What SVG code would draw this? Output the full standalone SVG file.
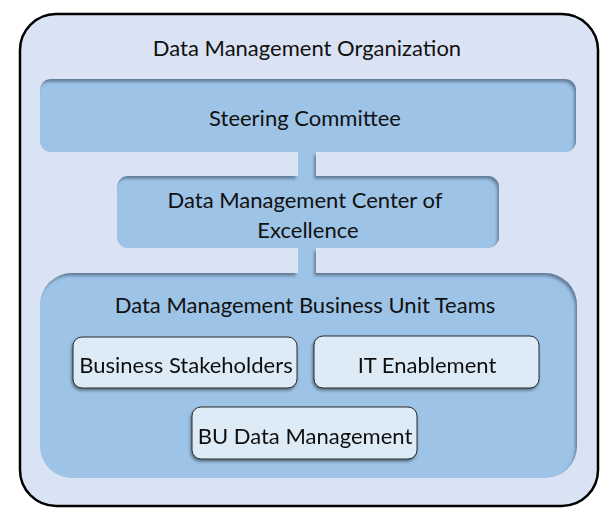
<svg xmlns="http://www.w3.org/2000/svg" width="614" height="523" viewBox="0 0 614 523">
<style>
text{font-family:Lato,"Open Sans","DejaVu Sans",sans-serif;font-size:22px;fill:#111;text-anchor:middle}
.mid{fill:#9dc3e6}
.small{fill:#ddebf7;stroke:#2a2a2a;stroke-width:1}
</style>
<defs>
<filter id="inner" x="-5%" y="-5%" width="110%" height="110%">
<feComponentTransfer in="SourceAlpha"><feFuncA type="table" tableValues="1 0"/></feComponentTransfer>
<feGaussianBlur stdDeviation="1.5"/>
<feOffset dx="-2.5" dy="2.5" result="off"/>
<feFlood flood-color="#3d5670" flood-opacity="0.75"/>
<feComposite in2="off" operator="in"/>
<feComposite in2="SourceAlpha" operator="in" result="shadow"/>
<feMerge><feMergeNode in="SourceGraphic"/><feMergeNode in="shadow"/></feMerge>
</filter>
<filter id="drop" x="-10%" y="-20%" width="120%" height="140%">
<feGaussianBlur in="SourceAlpha" stdDeviation="1.5"/>
<feOffset dx="-1.5" dy="2" result="b"/>
<feFlood flood-color="#000" flood-opacity="0.45"/>
<feComposite in2="b" operator="in"/>
<feMerge><feMergeNode/><feMergeNode in="SourceGraphic"/></feMerge>
</filter>
</defs>
<g id="organization">
<rect x="20" y="14" width="578" height="492" rx="36" fill="#dae3f3" stroke="#000" stroke-width="2.5"/>
<text x="307" y="56">Data Management Organization</text>
</g>
<g filter="url(#inner)">
<g id="connectors">
<rect class="mid" x="298" y="150" width="18" height="30"/>
<rect class="mid" x="298" y="246" width="18" height="30"/>
</g>
<g id="steering-committee">
<rect class="mid" x="40" y="79" width="536" height="73" rx="11"/>
</g>
<g id="center-of-excellence">
<rect class="mid" x="117" y="176" width="382" height="72" rx="11"/>
</g>
<g id="bu-teams">
<rect class="mid" x="40" y="273" width="537" height="205" rx="32"/>
</g>
</g>
<text x="305" y="126">Steering Committee</text>
<text x="305" y="208">Data Management Center of</text>
<text x="308" y="238">Excellence</text>
<text x="305" y="313">Data Management Business Unit Teams</text>
<g id="business-stakeholders" filter="url(#drop)">
<rect class="small" x="73" y="337" width="224" height="51" rx="9"/>
<text x="186" y="373">Business Stakeholders</text>
</g>
<g id="it-enablement" filter="url(#drop)">
<rect class="small" x="314" y="336" width="225" height="52" rx="9"/>
<text x="427" y="373">IT Enablement</text>
</g>
<g id="bu-data-management" filter="url(#drop)">
<rect class="small" x="192" y="407" width="225" height="52" rx="9"/>
<text x="305" y="444">BU Data Management</text>
</g>
</svg>
